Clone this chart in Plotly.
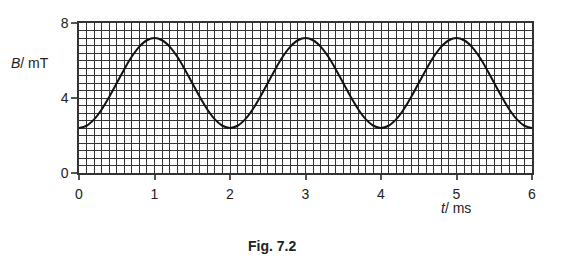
import plotly.graph_objects as go

t_ms = [round(i * 0.1, 1) for i in range(61)]
B_mT = [
    2.40, 2.52, 2.86, 3.39, 4.06, 4.80, 5.54, 6.21, 6.74, 7.08,
    7.20, 7.08, 6.74, 6.21, 5.54, 4.80, 4.06, 3.39, 2.86, 2.52,
    2.40, 2.52, 2.86, 3.39, 4.06, 4.80, 5.54, 6.21, 6.74, 7.08,
    7.20, 7.08, 6.74, 6.21, 5.54, 4.80, 4.06, 3.39, 2.86, 2.52,
    2.40, 2.52, 2.86, 3.39, 4.06, 4.80, 5.54, 6.21, 6.74, 7.08,
    7.20, 7.08, 6.74, 6.21, 5.54, 4.80, 4.06, 3.39, 2.86, 2.52,
    2.40,
]
x_ticks = [0, 1, 2, 3, 4, 5, 6]
y_ticks = [0, 4, 8]

grid_col = "#333333"
font_fam = "Liberation Sans, Arial, sans-serif"
txt_col = "#222222"

fig = go.Figure()
fig.add_trace(go.Scatter(
    x=t_ms, y=B_mT, mode="lines",
    line=dict(color="#111111", width=2, shape="spline"),
    hoverinfo="skip",
))

fig.update_layout(
    width=574, height=264,
    margin=dict(l=79, r=42, t=23, b=91),
    paper_bgcolor="white", plot_bgcolor="white",
    showlegend=False,
    font=dict(family=font_fam, size=14, color=txt_col),
)
fig.update_xaxes(
    range=[0, 6], tickvals=x_ticks, ticks="outside", ticklen=5,
    tickcolor="#555555", tickwidth=1.5,
    showgrid=True, gridcolor=grid_col, gridwidth=1,
    minor=dict(dtick=0.1, showgrid=True, gridcolor=grid_col, gridwidth=1),
    showline=True, linecolor=grid_col, linewidth=1.5, mirror=True,
    zeroline=False, tickfont=dict(size=14), ticklabelstandoff=2,
)
fig.update_yaxes(
    range=[0, 8], tickvals=y_ticks, ticks="outside", ticklen=6,
    tickcolor="#555555", tickwidth=1.5,
    showgrid=True, gridcolor=grid_col, gridwidth=1,
    minor=dict(dtick=0.4, showgrid=True, gridcolor=grid_col, gridwidth=1),
    showline=True, linecolor=grid_col, linewidth=1.5, mirror=True,
    zeroline=False, tickfont=dict(size=14), ticklabelstandoff=0,
)

fig.add_annotation(text="<i>B</i>/ mT", xref="paper", yref="paper",
                   x=-0.108, y=0.733, xanchor="center", yanchor="middle",
                   showarrow=False, font=dict(size=14, color=txt_col))
fig.add_annotation(text="<i>t</i>/ ms", xref="paper", yref="paper",
                   x=0.832, y=-0.23, xanchor="center", yanchor="middle",
                   showarrow=False, font=dict(size=14, color=txt_col))
fig.add_annotation(text="<b>Fig. 7.2</b>", xref="paper", yref="paper",
                   x=0.426, y=-0.487, xanchor="center", yanchor="middle",
                   showarrow=False, font=dict(size=14, color=txt_col))

fig.write_html("out.html")
